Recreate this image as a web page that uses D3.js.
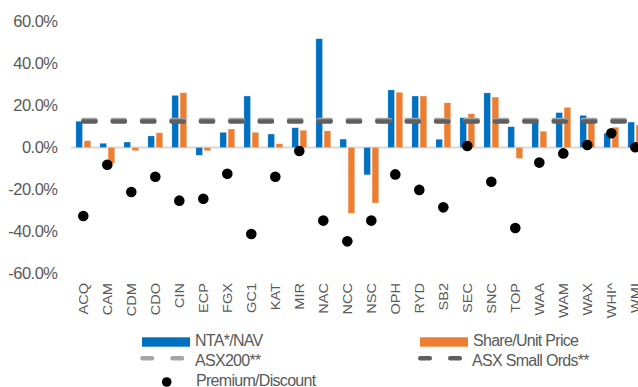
<!DOCTYPE html>
<html>
<head>
<meta charset="utf-8">
<script src="https://cdn.jsdelivr.net/npm/d3@7/dist/d3.min.js"></script>
<style>
  html, body { margin: 0; padding: 0; background: #fff; }
  svg { display: block; font-family: "Liberation Sans", Arial, sans-serif; }
</style>
</head>
<body>
<svg id="chart" width="638" height="387"></svg>
<script>
// ---- data ----
const categories = ["ACQ","CAM","CDM","CDO","CIN","ECP","FGX","GC1","KAT","MIR","NAC","NCC","NSC","OPH","RYD","SB2","SEC","SNC","TOP","WAA","WAM","WAX","WHI^","WMI"];
const ntaNav =      [12.5, 2.0, 2.6, 5.5, 24.8, -3.7, 7.2, 24.5, 6.4, 9.4, 51.8, 4.0, -13.0, 27.4, 24.5, 3.9, 14.2, 26.0, 9.9, 12.5, 16.6, 15.3, 6.8, 12.1];
const sharePrice =  [3.2, -7.5, -1.5, 7.0, 26.1, -1.5, 8.8, 7.2, 1.8, 8.2, 7.9, -31.3, -26.4, 26.3, 24.5, 21.3, 16.1, 24.0, -5.2, 7.7, 19.1, 12.5, 9.6, 10.7];
const premiumDiscount = [-32.6, -8.2, -21.2, -13.9, -25.3, -24.4, -12.5, -41.2, -13.9, -1.7, -34.8, -44.7, -34.8, -12.8, -20.2, -28.5, 0.7, -16.3, -38.3, -7.2, -2.8, 1.2, 6.8, 0.1];
const asx200 = 13.1;
const asxSmallOrds = 12.4;
const yTicks = [60, 40, 20, 0, -20, -40, -60];
const seriesNames = ["NTA*/NAV", "Share/Unit Price"];

// ---- styles ----
const BLUE = "#0070C0", ORANGE = "#ED7D31", LIGHT = "#A5A5A5", DARK = "#5F5F5F", TXT = "#595959";

const svg = d3.select("#chart");

const x = d3.scaleBand().domain(categories).range([71.3, 647.3]).padding(0);
const xs = d3.scaleBand().domain(seriesNames).range([-7.4, 7.4]).paddingInner(0.2);
const y = d3.scaleLinear().domain([-60, 60]).range([273.5, 21.5]);
const cx = c => x(c) + x.bandwidth() / 2;

// y axis labels
svg.append("g").selectAll("text").data(yTicks).join("text")
  .attr("x", 57.5).attr("y", d => y(d)).attr("dy", "0.36em")
  .attr("text-anchor", "end").attr("fill", TXT)
  .style("font-size", "16.5px").style("letter-spacing", "-0.5px")
  .text(d => d.toFixed(1) + "%");

// zero line
svg.append("line").attr("x1", 71).attr("x2", 638).attr("y1", y(0)).attr("y2", y(0))
  .attr("stroke", "#D9D9D9").attr("stroke-width", 1.8);

// bars
const barData = [];
categories.forEach((c, i) => {
  barData.push({c, s: seriesNames[0], v: ntaNav[i], col: BLUE});
  barData.push({c, s: seriesNames[1], v: sharePrice[i], col: ORANGE});
});
svg.append("g").selectAll("rect").data(barData).join("rect")
  .attr("x", d => cx(d.c) + xs(d.s))
  .attr("width", xs.bandwidth())
  .attr("y", d => Math.min(y(d.v), y(0)))
  .attr("height", d => Math.abs(y(d.v) - y(0)))
  .attr("fill", d => d.col)
  .attr("stroke", "#ffffff").attr("stroke-opacity", 0.35).attr("stroke-width", 0.6);

// benchmark dashed lines
const lineGen = d3.line().x(d => cx(d.c)).y(d => y(d.v));
[[asx200, LIGHT], [asxSmallOrds, DARK]].forEach(([v, col]) => {
  svg.append("path")
    .datum(categories.map(c => ({c, v})))
    .attr("d", lineGen)
    .attr("fill", "none").attr("stroke", col).attr("stroke-width", 4.6)
    .attr("stroke-linecap", "round").attr("stroke-dasharray", "12.2,17.2");
});

// premium/discount dots
svg.append("g").selectAll("circle").data(categories.map((c, i) => ({c, v: premiumDiscount[i]}))).join("circle")
  .attr("cx", d => cx(d.c)).attr("cy", d => y(d.v)).attr("r", 5.3).attr("fill", "#000");

// x labels
svg.append("g").selectAll("text").data(categories).join("text")
  .attr("transform", c => `translate(${cx(c) + 4.3},283) rotate(-90) scale(1.12,1)`)
  .attr("text-anchor", "end").attr("fill", TXT)
  .style("font-size", "13px")
  .text(c => c);

// legend
const lg = svg.append("g");
const legText = (tx, ty, t) => lg.append("text").attr("x", tx).attr("y", ty).attr("dy", "0.36em")
  .attr("fill", TXT).style("font-size", "16px").style("letter-spacing", "-0.7px").text(t);

lg.append("rect").attr("x", 142).attr("y", 337.3).attr("width", 48).attr("height", 9.4).attr("fill", BLUE);
legText(195, 340, seriesNames[0]);
lg.append("rect").attr("x", 420).attr("y", 337.3).attr("width", 48).attr("height", 9.4).attr("fill", ORANGE);
legText(473, 340, seriesNames[1]);

lg.append("path").attr("d", "M142.5,358.3H184").attr("stroke", LIGHT).attr("stroke-width", 4.6)
  .attr("stroke-linecap", "round").attr("stroke-dasharray", "9.5,20.5");
legText(195, 360, "ASX200**");
lg.append("path").attr("d", "M420.3,358.3H462").attr("stroke", DARK).attr("stroke-width", 4.6)
  .attr("stroke-linecap", "round").attr("stroke-dasharray", "9.5,20.5");
legText(472, 360, "ASX Small Ords**");

lg.append("circle").attr("cx", 166.7).attr("cy", 382).attr("r", 4.8).attr("fill", "#000");
legText(196, 380, "Premium/Discount");
</script>
</body>
</html>
